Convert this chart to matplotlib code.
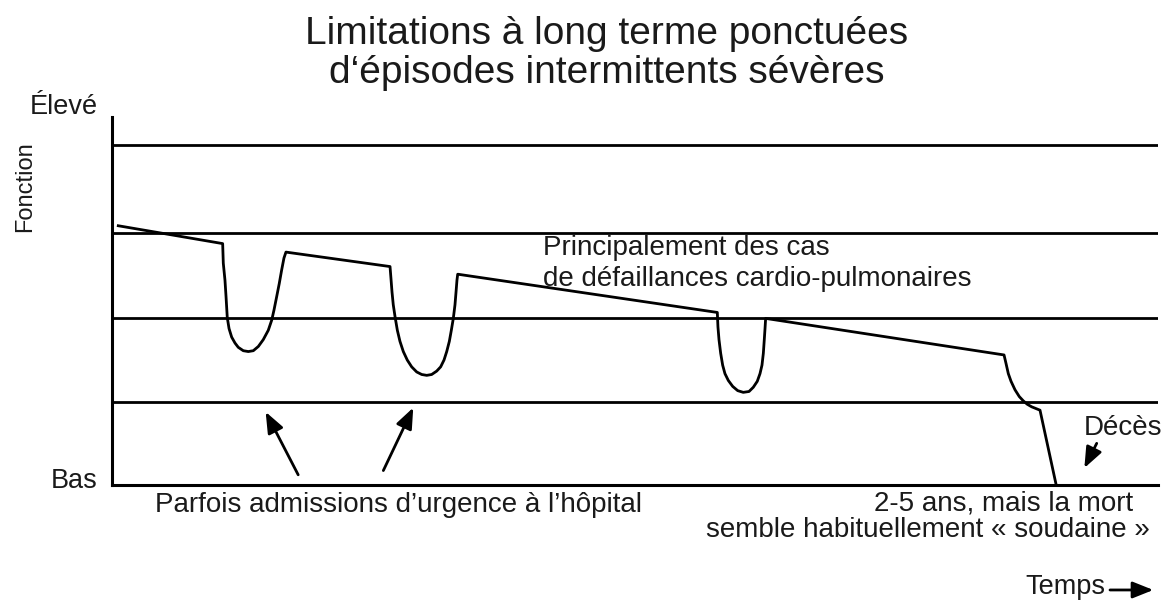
import matplotlib
matplotlib.use("Agg")
import matplotlib.pyplot as plt

plt.rcParams['font.family'] = ['Liberation Sans', 'DejaVu Sans']

# -- Trajectoire de la fonction (temps 0..100, niveaux de fonction 0..4)
temps = [0.60, 10.58,
         # 1er épisode
         10.64, 10.80, 10.90, 11.02, 11.19, 11.44, 11.76, 12.07, 12.55, 13.03, 13.51,
         13.99, 14.46, 14.94, 15.27, 15.49, 15.75, 15.99, 16.22, 16.44, 16.63,
         26.58,
         # 2e épisode
         26.67, 26.77, 26.89, 27.06, 27.28, 27.53, 27.85, 28.23, 28.65, 29.13, 29.61,
         30.09, 30.56, 31.04, 31.42, 31.74, 32.00, 32.25, 32.44, 32.63, 32.79, 32.89,
         32.98, 33.05,
         57.87,
         # 3e épisode
         57.93, 58.03, 58.19, 58.38, 58.60, 58.92, 59.34, 59.82, 60.35, 60.90, 61.31,
         61.69, 61.95, 62.14, 62.27, 62.36, 62.43, 62.49,
         85.28,
         # déclin final
         85.47, 85.69, 85.95, 86.33, 86.74, 87.12, 87.50, 87.92, 88.72, 90.25]
fonction = [3.05, 2.84,
            2.61, 2.41, 2.22, 1.97, 1.84, 1.74, 1.67, 1.62, 1.58, 1.57, 1.58,
            1.63, 1.71, 1.82, 1.94, 2.06, 2.22, 2.37, 2.53, 2.67, 2.74,
            2.57,
            2.43, 2.27, 2.12, 1.98, 1.82, 1.69, 1.57, 1.47, 1.39, 1.33, 1.30,
            1.29, 1.30, 1.34, 1.39, 1.47, 1.57, 1.69, 1.82, 1.96, 2.12, 2.27,
            2.41, 2.48,
            2.03,
            1.86, 1.71, 1.55, 1.41, 1.31, 1.23, 1.16, 1.11, 1.09, 1.10, 1.15,
            1.22, 1.31, 1.41, 1.55, 1.71, 1.84, 1.96,
            1.53,
            1.43, 1.31, 1.22, 1.12, 1.04, 0.99, 0.95, 0.92, 0.88, 0.01]

# -- Lignes de repère horizontales
niveaux = [0.98, 1.97, 2.97, 4.0]

# -- Flèches (départ -> pointe)
fleches_hopital = [((17.80, 0.12), (14.69, 0.86)),
                   ((25.94, 0.17), (28.80, 0.91))]
fleche_deces = ((94.14, 0.49), (92.96, 0.20))
fleche_temps = ((95.41, -1.235), (99.55, -1.235))

fig = plt.figure(figsize=(11.68, 6.0), dpi=100)
ax = fig.add_axes([112 / 1168, 115 / 600, 1046 / 1168, 368 / 600])
ax.set_xlim(0, 100)
ax.set_ylim(0, 368 / 85)

for s in ["top", "right"]:
    ax.spines[s].set_visible(False)
for s in ["left", "bottom"]:
    ax.spines[s].set_linewidth(2.2)
ax.set_xticks([])
ax.set_yticks([])

ax.hlines(niveaux, 0, 100, colors="black", linewidth=2.0)
ax.plot(temps, fonction, color="black", linewidth=2.0, solid_joinstyle="round")

arrow_kw = dict(arrowstyle="-|>,head_length=0.7,head_width=0.28", color="black",
                lw=2.0, mutation_scale=18, shrinkA=0, shrinkB=0)
for depart, pointe in fleches_hopital:
    ax.annotate("", xy=pointe, xytext=depart, arrowprops=arrow_kw, annotation_clip=False)
ax.annotate("", xy=fleche_deces[1], xytext=fleche_deces[0], arrowprops=arrow_kw,
            annotation_clip=False)
ax.annotate("", xy=fleche_temps[1], xytext=fleche_temps[0], arrowprops=arrow_kw,
            annotation_clip=False)

tc = "#1a1a1a"
fs = 20
ax.text(-7.84, 4.365, "Élevé", fontsize=19.5, color=tc, ha="left", va="baseline", clip_on=False)
ax.text(-1.34, -0.035, "Bas", fontsize=19.5, color=tc, ha="right", va="baseline", clip_on=False)
ax.text(-8.32, 3.51, "Fonction", fontsize=17, color=tc, rotation=90, ha="center", va="center",
        clip_on=False)
ax.text(41.2, 2.706, "Principalement des cas", fontsize=fs, color=tc, ha="left", va="baseline")
ax.text(41.2, 2.341, "de défaillances cardio-pulmonaires", fontsize=fs, color=tc, ha="left",
        va="baseline")
ax.text(27.4, -0.318, "Parfois admissions d\u2019urgence à l\u2019hôpital", fontsize=fs, color=tc,
        ha="center", va="baseline", clip_on=False)
ax.text(85.2, -0.30, "2-5 ans, mais la mort", fontsize=fs, color=tc, ha="center", va="baseline",
        clip_on=False)
ax.text(78.0, -0.612, "semble habituellement « soudaine »", fontsize=fs, color=tc, ha="center",
        va="baseline", clip_on=False)
ax.text(96.7, 0.588, "Décès", fontsize=fs, color=tc, ha="center", va="baseline", clip_on=False)
ax.text(95.0, -1.28, "Temps", fontsize=19.5, color=tc, ha="right", va="baseline", clip_on=False)

fig.text(607 / 1168, 1 - 44 / 600, "Limitations à long terme ponctuées", fontsize=28, color=tc,
         ha="center", va="baseline")
fig.text(607 / 1168, 1 - 83 / 600, "d\u2018épisodes intermittents sévères", fontsize=28, color=tc,
         ha="center", va="baseline")

fig.savefig("out.png", dpi=100, facecolor="white")
